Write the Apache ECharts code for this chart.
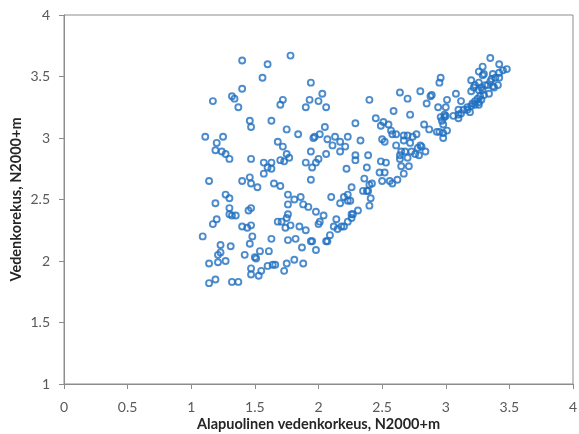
<!DOCTYPE html>
<html>
<head>
<meta charset="utf-8">
<script src="https://cdn.jsdelivr.net/npm/echarts@6/dist/echarts.min.js"></script>
<style>
html,body{margin:0;padding:0;background:#fff;}
#chart{width:579px;height:434px;}
</style>
</head>
<body>
<div id="chart"></div>
<script>
const xTitle = 'Alapuolinen vedenkorkeus, N2000+m';
const yTitle = 'Vedenkorekus, N2000+m';

const xValues = [
1.40,1.60,1.78,1.56,1.40,1.17,1.32,1.34,1.72,1.70,1.37,1.46,1.47,1.63,1.75,1.11,1.25,1.20,1.19,1.24,
1.27,1.30,1.47,1.57,1.63,1.60,1.68,1.72,1.75,1.70,1.73,1.77,
1.63,1.57,1.14,1.40,1.46,1.47,1.52,1.65,1.70,1.76,1.81,1.76,1.27,1.30,1.19,1.30,1.30,1.32,
1.35,1.45,1.47,1.20,1.17,1.76,1.75,1.68,1.71,1.74,1.78,1.40,1.44,1.47,1.09,1.48,1.63,1.76,
1.23,1.31,1.46,1.21,1.23,1.42,1.50,1.51,1.54,1.61,1.14,1.21,1.27,1.60,1.64,1.66,1.75,1.81,
1.47,1.55,1.73,1.47,1.53,1.19,1.14,1.32,1.37,
1.94,2.03,1.93,2.00,1.90,2.06,2.40,2.64,2.59,2.45,2.29,2.05,2.49,2.51,2.55,2.57,2.58,2.61,
1.84,1.96,1.97,2.01,2.07,2.13,2.17,2.23,2.11,2.21,2.33,2.50,2.52,2.61,1.94,2.06,2.17,2.29,
2.29,2.39,2.00,1.98,1.90,1.95,2.22,2.38,2.49,2.53,
2.48,2.52,1.94,2.36,2.50,2.56,2.58,2.62,2.42,2.40,2.26,2.35,2.38,2.39,2.23,2.20,2.23,2.25,
2.41,2.10,2.17,2.40,1.86,1.88,1.92,1.98,2.04,2.31,2.26,2.27,2.26,2.01,2.00,2.14,2.23,2.12,
2.15,2.18,2.20,1.85,1.90,2.09,2.06,2.07,1.82,1.94,1.95,1.87,1.98,1.88,
3.35,3.42,3.48,3.45,3.42,3.29,3.26,3.30,3.29,3.37,3.39,3.36,3.35,3.42,2.96,2.95,3.20,3.26,
3.23,3.22,3.28,3.31,3.33,3.37,3.41,3.38,3.26,3.29,3.20,2.80,3.34,3.30,3.27,3.25,3.28,3.23,
3.26,3.21,3.23,3.20,3.26,2.88,2.89,2.70,3.01,3.08,2.85,3.12,2.94,3.00,3.17,3.10,3.14,3.17,
3.19,2.99,2.72,3.06,3.10,3.12,2.96,2.99,3.00,3.10,2.97,2.98,2.83,2.87,3.01,2.93,2.95,2.98,
2.98,2.77,2.74,2.70,2.67,2.67,2.72,2.80,2.81,2.78,2.84,2.65,2.68,2.73,2.76,2.79,2.64,2.64,
2.70,2.65,2.71,2.67
];
const yValues = [
3.63,3.60,3.67,3.49,3.40,3.30,3.34,3.32,3.31,3.27,3.25,3.14,3.09,3.14,3.07,3.01,3.01,2.96,2.90,2.89,
2.87,2.83,2.83,2.80,2.80,2.76,2.97,2.93,2.87,2.82,2.81,2.84,
2.75,2.71,2.65,2.65,2.68,2.63,2.60,2.63,2.61,2.54,2.50,2.46,2.54,2.51,2.47,2.43,2.38,2.37,
2.37,2.41,2.43,2.34,2.30,2.38,2.35,2.32,2.32,2.27,2.29,2.28,2.27,2.29,2.20,2.20,2.18,2.17,
2.13,2.12,2.14,2.05,2.07,2.05,2.03,2.02,2.08,2.08,1.98,1.99,2.00,1.96,1.97,1.97,1.98,2.01,
1.94,1.92,1.92,1.89,1.88,1.85,1.82,1.83,1.83,
3.45,3.36,3.31,3.30,3.25,3.25,3.31,3.37,3.22,3.16,3.12,3.09,3.10,3.13,3.11,3.06,3.03,3.03,
3.03,3.00,3.01,3.03,2.99,3.01,2.97,3.01,2.94,2.93,2.98,2.99,2.97,2.94,2.89,2.87,2.89,2.86,
2.82,2.86,2.83,2.80,2.80,2.76,2.75,2.76,2.81,2.80,
2.72,2.72,2.66,2.67,2.65,2.65,2.63,2.66,2.63,2.62,2.60,2.57,2.57,2.57,2.54,2.52,2.49,2.49,
2.51,2.52,2.47,2.45,2.52,2.46,2.44,2.40,2.37,2.41,2.38,2.38,2.35,2.32,2.30,2.34,2.32,2.28,
2.26,2.28,2.28,2.28,2.25,2.21,2.16,2.16,2.18,2.16,2.16,2.11,2.09,1.98,
3.65,3.60,3.56,3.55,3.53,3.58,3.54,3.52,3.51,3.52,3.49,3.48,3.46,3.49,3.49,3.45,3.47,3.45,
3.43,3.41,3.41,3.43,3.43,3.42,3.43,3.41,3.39,3.39,3.38,3.38,3.36,3.35,3.34,3.32,3.31,3.30,
3.29,3.28,3.27,3.26,3.27,3.34,3.35,3.32,3.31,3.36,3.28,3.30,3.25,3.25,3.25,3.23,3.23,3.23,
3.21,3.19,3.19,3.18,3.19,3.20,3.17,3.17,3.18,3.16,3.14,3.11,3.11,3.07,3.06,3.05,3.05,3.04,
3.00,3.03,3.01,3.02,3.02,2.98,2.96,2.94,2.93,2.92,2.89,2.89,2.89,2.89,2.87,2.86,2.86,2.83,
2.84,2.77,2.77,2.71
];

const xTicks = [0,0.5,1,1.5,2,2.5,3,3.5,4];
const yTicks = [1,1.5,2,2.5,3,3.5,4];

const points = xValues.map((x,i)=>[x,yValues[i]]);

const axisColor = '#8c8c8c';
const labelColor = '#595959';
const font = 'Lato, "Open Sans", sans-serif';

const chart = echarts.init(document.getElementById('chart'), null, {renderer:'canvas'});
chart.setOption({
  animation:false,
  backgroundColor:'#ffffff',
  grid:{left:64,right:6,top:15,bottom:50,containLabel:false,outerBoundsMode:'none',show:true,borderColor:axisColor,borderWidth:1,backgroundColor:'transparent'},
  xAxis:{
    type:'value',min:xTicks[0],max:xTicks[xTicks.length-1],interval:0.5,
    name:xTitle,nameLocation:'middle',nameGap:33,nameMoveOverlap:false,
    nameTextStyle:{fontFamily:font,fontSize:14.5,fontWeight:'bold',color:'#262626'},
    axisLine:{show:true,lineStyle:{color:axisColor,width:1}},
    axisTick:{show:true,length:5,lineStyle:{color:axisColor}},
    axisLabel:{margin:16,fontFamily:font,fontSize:14,color:labelColor},
    splitLine:{show:false}
  },
  yAxis:{
    type:'value',min:yTicks[0],max:yTicks[yTicks.length-1],interval:0.5,
    name:yTitle,nameLocation:'middle',nameGap:40,nameMoveOverlap:false,
    nameTextStyle:{fontFamily:font,fontSize:14.5,fontWeight:'bold',color:'#262626'},
    axisLine:{show:true,lineStyle:{color:axisColor,width:1}},
    axisTick:{show:true,length:5,lineStyle:{color:axisColor}},
    axisLabel:{margin:14,fontFamily:font,fontSize:14,color:labelColor},
    splitLine:{show:false}
  },
  series:[{
    type:'scatter',
    data:points,
    symbol:'circle',
    symbolSize:6,
    itemStyle:{color:'rgba(255,255,255,0)',borderColor:'#1F6FC0',borderWidth:1.9}
  }]
});
</script>
</body>
</html>
